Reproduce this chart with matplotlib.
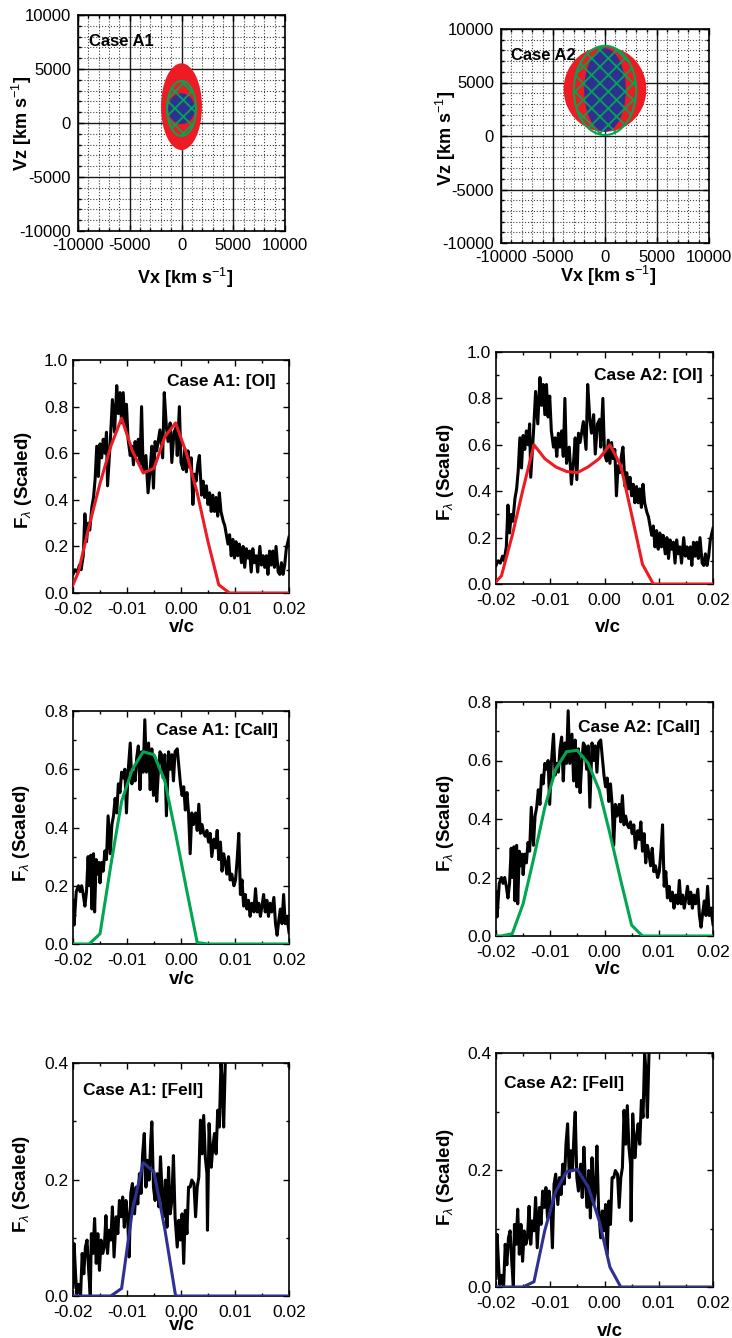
import matplotlib
matplotlib.use('Agg')
import matplotlib.pyplot as plt
from matplotlib.patches import Ellipse
from matplotlib.ticker import MultipleLocator, FormatStrFormatter

plt.rcParams['font.family'] = 'Liberation Sans'
plt.rcParams['axes.unicode_minus'] = False
plt.rcParams['mathtext.fontset'] = 'custom'
plt.rcParams['mathtext.rm'] = 'Liberation Sans'
plt.rcParams['mathtext.it'] = 'Liberation Sans:italic'
plt.rcParams['mathtext.bf'] = 'Liberation Sans:bold'
plt.rcParams['hatch.linewidth'] = 1.3

RED = '#ED1C24'
GREEN = '#00A651'
BLUE = '#2E3192'

# ---- velocity-space ellipses: centre vx, centre vz, width, height (km/s)
a1_red = [0, 1510, 3950, 8030]
a1_blue = [0, 1330, 2580, 2840]
a1_green = [0, 1345, 2800, 5090]
a2_red = [0, 4370, 7950, 7950]
a2_blue = [0, 4290, 4000, 7780]
a2_green = [0, 4260, 6000, 8340]

# ---- observed spectra (v/c, scaled flux), same in both cases
oi_v = [-0.0200, -0.0196, -0.0192, -0.0188, -0.0185, -0.0181, -0.0178, -0.0175, -0.0172, -0.0169,
        -0.0165, -0.0162, -0.0159, -0.0156, -0.0153, -0.0150, -0.0147, -0.0144, -0.0141, -0.0138,
        -0.0136, -0.0131, -0.0127, -0.0123, -0.0119, -0.0116, -0.0113, -0.0110, -0.0107, -0.0104,
        -0.0101, -0.0098, -0.0094, -0.0091, -0.0088, -0.0085, -0.0082, -0.0079, -0.0076, -0.0073,
        -0.0070, -0.0065, -0.0061, -0.0057, -0.0054, -0.0051, -0.0048, -0.0045, -0.0039, -0.0034,
        -0.0031, -0.0027, -0.0024, -0.0020, -0.0017, -0.0013, -0.0009, -0.0007, -0.0003, 0.0000,
        0.0004, 0.0007, 0.0010, 0.0013, 0.0016, 0.0019, 0.0022, 0.0025, 0.0028, 0.0031,
        0.0034, 0.0038, 0.0041, 0.0044, 0.0047, 0.0050, 0.0053, 0.0056, 0.0059, 0.0062,
        0.0065, 0.0068, 0.0071, 0.0074, 0.0078, 0.0081, 0.0084, 0.0087, 0.0090, 0.0093,
        0.0096, 0.0099, 0.0102, 0.0105, 0.0108, 0.0112, 0.0115, 0.0118, 0.0121, 0.0124,
        0.0127, 0.0130, 0.0133, 0.0136, 0.0139, 0.0142, 0.0146, 0.0149, 0.0152, 0.0155,
        0.0158, 0.0161, 0.0164, 0.0167, 0.0170, 0.0173, 0.0176, 0.0180, 0.0183, 0.0186,
        0.0189, 0.0192, 0.0195, 0.0198, 0.0200]
oi_f = [0.08, 0.10, 0.09, 0.12, 0.10, 0.16, 0.34, 0.22, 0.30, 0.27,
        0.37, 0.41, 0.49, 0.63, 0.50, 0.64, 0.58, 0.66, 0.60, 0.69,
        0.46, 0.65, 0.83, 0.69, 0.89, 0.77, 0.86, 0.73, 0.86, 0.72,
        0.81, 0.66, 0.59, 0.63, 0.55, 0.65, 0.59, 0.66, 0.55, 0.80,
        0.52, 0.59, 0.43, 0.53, 0.63, 0.45, 0.65, 0.61, 0.70, 0.58,
        0.86, 0.71, 0.65, 0.73, 0.56, 0.69, 0.71, 0.59, 0.80, 0.56,
        0.53, 0.62, 0.52, 0.61, 0.54, 0.58, 0.38, 0.51, 0.48, 0.55,
        0.59, 0.42, 0.48, 0.41, 0.46, 0.38, 0.43, 0.35, 0.42, 0.35,
        0.41, 0.33, 0.43, 0.35, 0.31, 0.29, 0.25, 0.21, 0.25, 0.16,
        0.23, 0.15, 0.22, 0.16, 0.21, 0.13, 0.20, 0.11, 0.19, 0.15,
        0.18, 0.09, 0.19, 0.13, 0.16, 0.09, 0.20, 0.12, 0.16, 0.11,
        0.16, 0.08, 0.18, 0.12, 0.18, 0.11, 0.20, 0.09, 0.08, 0.13,
        0.08, 0.12, 0.19, 0.22, 0.24]

caii_v = [-0.0200, -0.0198, -0.0194, -0.0190, -0.0187, -0.0184, -0.0181, -0.0178, -0.0175, -0.0172,
          -0.0170, -0.0167, -0.0165, -0.0162, -0.0160, -0.0157, -0.0155, -0.0152, -0.0150, -0.0147,
          -0.0144, -0.0141, -0.0138, -0.0135, -0.0131, -0.0128, -0.0125, -0.0122, -0.0119, -0.0116,
          -0.0113, -0.0110, -0.0107, -0.0104, -0.0101, -0.0098, -0.0094, -0.0091, -0.0088, -0.0085,
          -0.0082, -0.0079, -0.0076, -0.0073, -0.0070, -0.0067, -0.0064, -0.0060, -0.0057, -0.0054,
          -0.0051, -0.0048, -0.0045, -0.0042, -0.0039, -0.0036, -0.0033, -0.0030, -0.0027, -0.0023,
          -0.0020, -0.0017, -0.0014, -0.0011,
          -0.0007, -0.0001, 0.0002, 0.0005, 0.0008, 0.0011, 0.0014, 0.0017, 0.0020, 0.0023,
          0.0027, 0.0030, 0.0033, 0.0036, 0.0039, 0.0042, 0.0045, 0.0048, 0.0051, 0.0054,
          0.0057, 0.0061, 0.0064, 0.0067, 0.0070, 0.0073, 0.0076, 0.0079, 0.0082, 0.0085,
          0.0088, 0.0091, 0.0094, 0.0098, 0.0101, 0.0104, 0.0107, 0.0110, 0.0113, 0.0116,
          0.0119, 0.0122, 0.0125, 0.0128, 0.0131, 0.0135, 0.0138, 0.0141, 0.0144, 0.0147,
          0.0150, 0.0153, 0.0156, 0.0159, 0.0162, 0.0165, 0.0168, 0.0172, 0.0175, 0.0178,
          0.0181, 0.0184, 0.0187, 0.0190, 0.0193, 0.0196, 0.0200]
caii_f = [0.15, 0.065, 0.18, 0.20, 0.18, 0.20, 0.17, 0.13, 0.18, 0.30,
          0.20, 0.305, 0.12, 0.31, 0.11, 0.29, 0.24, 0.28, 0.21, 0.28,
          0.25, 0.32, 0.29, 0.44, 0.31, 0.41, 0.44, 0.50, 0.45, 0.55,
          0.52, 0.59, 0.57, 0.60, 0.45, 0.59, 0.69, 0.55, 0.59, 0.56,
          0.64, 0.68, 0.53, 0.66, 0.59, 0.77, 0.59, 0.69, 0.53, 0.67,
          0.51, 0.64, 0.49, 0.59, 0.66, 0.65, 0.57, 0.65, 0.44, 0.66,
          0.60, 0.65, 0.56, 0.66,
          0.67, 0.55, 0.51, 0.54, 0.46, 0.52, 0.45, 0.31, 0.45, 0.41,
          0.45, 0.39, 0.48, 0.38, 0.41, 0.38, 0.37, 0.39, 0.35, 0.38,
          0.30, 0.36, 0.33, 0.39, 0.29, 0.35, 0.25, 0.31, 0.28, 0.24,
          0.30, 0.22, 0.24, 0.20, 0.22, 0.29, 0.38, 0.17, 0.22, 0.13,
          0.17, 0.12, 0.15, 0.095, 0.14, 0.11, 0.19, 0.11, 0.14, 0.095,
          0.13, 0.17, 0.11, 0.15, 0.095, 0.14, 0.11, 0.16, 0.07, 0.03,
          0.08, 0.12, 0.07, 0.17, 0.07, 0.095, 0.04]

feii_v = [-0.0200, -0.0198, -0.0195, -0.0193, -0.0190, -0.0186, -0.0183, -0.0180, -0.0177, -0.0174,
          -0.0171, -0.0168, -0.0166, -0.0163, -0.0160, -0.0157, -0.0154, -0.0151, -0.0148, -0.0145,
          -0.0142, -0.0139, -0.0136, -0.0133, -0.0130, -0.0127, -0.0124, -0.0120, -0.0117, -0.0114,
          -0.0111, -0.0108, -0.0105, -0.0102, -0.0099, -0.0096, -0.0093, -0.0090, -0.0086, -0.0083,
          -0.0080, -0.0077, -0.0074, -0.0071, -0.0068, -0.0065, -0.0062, -0.0059, -0.0056, -0.0054,
          -0.0051, -0.0048, -0.0044, -0.0041, -0.0038, -0.0035, -0.0032, -0.0029, -0.0026, -0.0023,
          -0.0020, -0.0017, -0.0014, -0.0011, -0.0007, -0.0004, -0.0001, 0.0002, 0.0005, 0.0008,
          0.0011, 0.0014, 0.0017, 0.0020, 0.0024, 0.0027, 0.0030, 0.0033, 0.0036, 0.0039,
          0.0042, 0.0045, 0.0048, 0.0049, 0.0052, 0.0056, 0.0059, 0.0062, 0.0065, 0.0068,
          0.0071, 0.0074, 0.0076, 0.0079, 0.0082, 0.0085,
          0.0095, 0.0120, 0.0150, 0.0180, 0.0197, 0.0200]
feii_f = [0.015, 0.09, 0.033, 0.004, 0.02, 0.0, 0.073, 0.038, 0.084, 0.096,
          0.044, 0.0, 0.107, 0.073, 0.133, 0.056, 0.107, 0.044, 0.096, 0.073,
          0.084, 0.138, 0.073, 0.113, 0.096, 0.153, 0.067, 0.136, 0.107, 0.164,
          0.136, 0.17, 0.118, 0.164, 0.136, 0.067, 0.176, 0.193, 0.141, 0.187,
          0.158, 0.21, 0.176, 0.244, 0.279, 0.187, 0.233, 0.199, 0.267, 0.299,
          0.187, 0.164, 0.21, 0.153, 0.239, 0.176, 0.136, 0.199, 0.118, 0.221,
          0.141, 0.164, 0.241, 0.136, 0.084, 0.13, 0.096, 0.141, 0.056, 0.147,
          0.107, 0.187, 0.187, 0.199, 0.193, 0.136, 0.187, 0.204, 0.302, 0.244,
          0.31, 0.239, 0.21, 0.113, 0.296, 0.221, 0.256, 0.279, 0.244, 0.319,
          0.29, 0.399, 0.376, 0.29, 0.40, 0.42,
          0.55, 0.60, 0.60, 0.55, 0.50, 0.395]

# ---- model profiles on a coarse v/c grid
model_v = [-0.020, -0.019, -0.017, -0.015, -0.013, -0.011, -0.009, -0.007, -0.005, -0.003, -0.001,
           0.001, 0.003, 0.005, 0.007, 0.009, 0.011, 0.013, 0.015, 0.017, 0.019, 0.020]
oi_a1 = [0.035, 0.09, 0.29, 0.47, 0.63, 0.75, 0.61, 0.515, 0.535, 0.67, 0.73,
         0.60, 0.43, 0.22, 0.035, 0.0, 0.0, 0.0, 0.0, 0.0, 0.0, 0.0]
oi_a2 = [0.01, 0.035, 0.21, 0.41, 0.60, 0.54, 0.505, 0.485, 0.48, 0.505, 0.54,
         0.60, 0.51, 0.30, 0.085, 0.0, 0.0, 0.0, 0.0, 0.0, 0.0, 0.0]
caii_a1 = [0.0, 0.0, 0.0, 0.035, 0.27, 0.49, 0.60, 0.66, 0.65, 0.56, 0.38,
           0.19, 0.005, 0.0, 0.0, 0.0, 0.0, 0.0, 0.0, 0.0, 0.0, 0.0]
caii_a2 = [0.0, 0.0, 0.008, 0.11, 0.27, 0.44, 0.57, 0.63, 0.635, 0.59, 0.50,
           0.35, 0.19, 0.037, 0.0, 0.0, 0.0, 0.0, 0.0, 0.0, 0.0, 0.0]
feii_a1 = [0.0, 0.0, 0.0, 0.0, 0.0, 0.013, 0.147, 0.229, 0.213, 0.115, 0.0,
           0.0, 0.0, 0.0, 0.0, 0.0, 0.0, 0.0, 0.0, 0.0, 0.0, 0.0]
feii_a2 = [0.0, 0.0, 0.0, 0.0, 0.009, 0.097, 0.163, 0.197, 0.201, 0.171, 0.114,
           0.034, 0.0, 0.0, 0.0, 0.0, 0.0, 0.0, 0.0, 0.0, 0.0, 0.0]

W, H = 732, 1338
fig = plt.figure(figsize=(W / 100, H / 100), dpi=100)


def add_ax(l, t, r, b):
    return fig.add_axes([l / W, 1 - b / H, (r - l) / W, (b - t) / H])


def place_labels(ax, xlab, ylab, xpos, ypos, size):
    ax.set_xlabel(xlab, fontsize=size, fontweight='bold', va='center')
    ax.set_ylabel(ylab, fontsize=size, fontweight='bold', va='center')
    ax.xaxis.set_label_coords(xpos[0] / W, 1 - xpos[1] / H, transform=fig.transFigure)
    ax.yaxis.set_label_coords(ypos[0] / W, 1 - ypos[1] / H, transform=fig.transFigure)


def style_ticks(ax, size, xpad, ypad):
    ax.tick_params(which='both', direction='in', top=True, right=True, labelsize=size, width=1)
    ax.tick_params(which='major', length=4.5)
    ax.tick_params(which='minor', length=2.5)
    ax.tick_params(axis='x', which='major', pad=xpad)
    ax.tick_params(axis='y', which='major', pad=ypad)
    for s in ax.spines.values():
        s.set_linewidth(1.2)


def velocity_panel(box, red, blue, green, text, tpos, xpos, ypos):
    ax = add_ax(*box)
    ax.set_xlim(-10000, 10000)
    ax.set_ylim(-10000, 10000)
    ax.set_axisbelow(True)
    ax.add_patch(Ellipse((red[0], red[1]), red[2], red[3], facecolor=RED, edgecolor='none', zorder=2))
    ax.add_patch(Ellipse((blue[0], blue[1]), blue[2], blue[3], facecolor=BLUE, edgecolor='none', zorder=3))
    ax.add_patch(Ellipse((green[0], green[1]), green[2], green[3], fill=False, hatch='xx',
                         edgecolor=GREEN, linewidth=1.5, zorder=4))
    for axis in (ax.xaxis, ax.yaxis):
        axis.set_major_locator(MultipleLocator(5000))
        axis.set_minor_locator(MultipleLocator(1000))
        axis.set_major_formatter(FormatStrFormatter('%d'))
    ax.grid(which='major', color='0.1', linewidth=1.0, linestyle='-')
    ax.grid(which='minor', color='0.25', linewidth=0.8, linestyle=':')
    style_ticks(ax, 12, 5, 5)
    ax.text(tpos[0], tpos[1], text, transform=ax.transAxes, fontsize=12, fontweight='bold',
            ha='left', va='center', zorder=5)
    place_labels(ax, r'Vx [km s$^{-1}$]', r'Vz [km s$^{-1}$]', xpos, ypos, 13)
    return ax


def spectrum_panel(box, v, f, mf, color, ymax, text, tpos, ha, xpos, ypos):
    ax = add_ax(*box)
    ax.plot(v, f, color='black', linewidth=2.2, zorder=2)
    ax.plot(model_v, mf, color=color, linewidth=2.2, zorder=3)
    ax.set_xlim(-0.02, 0.02)
    ax.set_ylim(0, ymax)
    ax.xaxis.set_major_locator(MultipleLocator(0.01))
    ax.xaxis.set_minor_locator(MultipleLocator(0.005))
    ax.xaxis.set_major_formatter(FormatStrFormatter('%.2f'))
    ax.yaxis.set_major_locator(MultipleLocator(0.2))
    ax.yaxis.set_minor_locator(MultipleLocator(0.1))
    ax.yaxis.set_major_formatter(FormatStrFormatter('%.1f'))
    style_ticks(ax, 12.5, 6.5, 3.5)
    ax.text(tpos[0], tpos[1], text, transform=ax.transAxes, fontsize=12.5, fontweight='bold',
            ha=ha, va='center', zorder=5)
    place_labels(ax, 'v/c', r'F$_{\lambda}$ (Scaled)', xpos, ypos, 13.5)
    return ax


# top row: velocity structure
velocity_panel((78, 15, 285, 231), a1_red, a1_blue, a1_green, 'Case A1', (0.053, 0.875),
               (185, 278), (22, 123))
velocity_panel((501, 29, 709, 243), a2_red, a2_blue, a2_green, 'Case A2', (0.048, 0.878),
               (608, 276), (446, 138))

# [OI]
spectrum_panel((73, 360, 289, 593), oi_v, oi_f, oi_a1, RED, 1.0, 'Case A1: [OI]',
               (0.94, 0.906), 'right', (182, 628), (23, 480))
spectrum_panel((496, 352, 713, 584), oi_v, oi_f, oi_a2, RED, 1.0, 'Case A2: [OI]',
               (0.954, 0.90), 'right', (608, 627), (446, 472))

# [CaII]
spectrum_panel((73, 711, 289, 944), caii_v, caii_f, caii_a1, GREEN, 0.8, 'Case A1: [CaII]',
               (0.95, 0.918), 'right', (182, 980), (22, 833))
spectrum_panel((496, 702, 713, 936), caii_v, caii_f, caii_a2, GREEN, 0.8, 'Case A2: [CaII]',
               (0.94, 0.893), 'right', (608, 970), (446, 823))

# [FeII]
spectrum_panel((73, 1063, 289, 1296), feii_v, feii_f, feii_a1, BLUE, 0.4, 'Case A1: [FeII]',
               (0.046, 0.88), 'left', (182, 1326), (22, 1184))
spectrum_panel((496, 1053, 713, 1287), feii_v, feii_f, feii_a2, BLUE, 0.4, 'Case A2: [FeII]',
               (0.037, 0.868), 'left', (610, 1331), (446, 1177))

fig.savefig('out.png', dpi=100)
